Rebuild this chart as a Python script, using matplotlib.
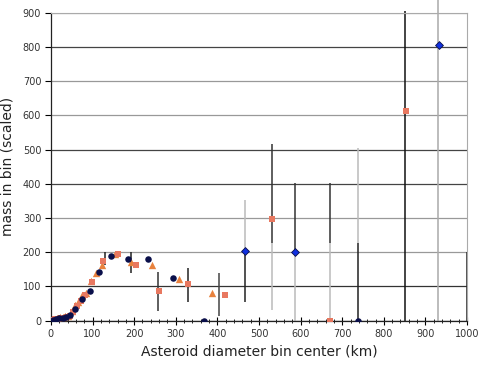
import matplotlib
matplotlib.use("Agg")
import matplotlib.pyplot as plt
from matplotlib.ticker import MultipleLocator

# ---- data ----
navy_x = [4, 12, 20, 28, 36, 45, 57, 74, 94, 116, 145, 185, 234, 293, 369, 739]
navy_y = [2, 5, 7, 9, 11, 16, 34, 62, 86, 141, 189, 180, 179, 126, 0, 0]

blue_x = [466, 587, 933]
blue_y = [203, 202, 805]

square_x = [3, 10, 17, 24, 31, 38, 46, 54, 62, 72, 82, 98, 126, 161, 204, 259, 329, 419, 532, 671, 853]
square_y = [1, 4, 6, 8, 9, 11, 14, 24, 42, 58, 74, 113, 175, 195, 163, 88, 107, 74, 298, 0, 613]

tri_x = [2, 8, 14, 21, 28, 35, 42, 50, 58, 66, 75, 85, 97, 109, 123, 155, 192, 244, 308, 388]
tri_y = [2, 5, 8, 10, 11, 13, 15, 29, 45, 56, 75, 80, 115, 140, 162, 194, 172, 163, 123, 81]

# error bars: x, low, high, shade
err_x  = [130, 193, 258, 329, 403, 466, 466, 532, 532, 587, 587, 671, 671, 739, 739, 852, 930, 1000]
err_lo = [163, 140, 28, 54, 15, 56, 200, 226, 30, 206, 0, 226, 0, 226, 0, 0, 0, 0]
err_hi = [202, 202, 142, 153, 140, 200, 352, 515, 226, 402, 206, 402, 226, 505, 226, 905, 940, 200]
err_c  = ['#222222', '#222222', '#333333', '#222222', '#444444', '#222222', '#bbbbbb',
          '#333333', '#bbbbbb', '#333333', '#bbbbbb', '#333333', '#bbbbbb', '#bbbbbb',
          '#222222', '#111111', '#aaaaaa', '#222222']

y_ticks = [0, 100, 200, 300, 400, 500, 600, 700, 800, 900]
y_grid_c = ['#222222', '#333333', '#999999', '#999999', '#444444', '#444444', '#999999', '#999999', '#444444', '#aaaaaa']
x_ticks = [0, 100, 200, 300, 400, 500, 600, 700, 800, 900, 1000]

fig = plt.figure(figsize=(4.85, 3.74), dpi=100)
ax = fig.add_axes([0.105, 0.1425, 0.858, 0.8235])
ax.set_xlim(0, 1000)
ax.set_ylim(0, 900)

for yv, c in zip(y_ticks, y_grid_c):
    ax.axhline(yv, color=c, lw=0.9, zorder=1)

for x, lo, hi, c in zip(err_x, err_lo, err_hi, err_c):
    ax.vlines(x, lo, hi, color=c, lw=1.1, zorder=2, clip_on=False if hi > 900 else True)

ax.scatter(tri_x, tri_y, marker='^', s=28, color='#e8823e', zorder=4, linewidths=0)
ax.scatter(square_x, square_y, marker='s', s=24, color='#e87860', zorder=4, linewidths=0)
ax.scatter(navy_x, navy_y, marker='o', s=22, color='#0a0f4a', zorder=5, linewidths=0)
ax.scatter(blue_x, blue_y, marker='D', s=16, color='#1030e0', edgecolors='#0a0f4a', linewidths=0.6, zorder=5)

ax.set_yticks(y_ticks)
ax.set_xticks(x_ticks)
ax.xaxis.set_minor_locator(MultipleLocator(20))
ax.tick_params(axis='y', direction='out', length=4, width=0.8, labelsize=7, labelcolor='#333333', pad=3)
ax.tick_params(axis='x', which='major', direction='inout', length=6, width=0.8, labelsize=7, labelcolor='#333333', pad=3)
ax.tick_params(axis='x', which='minor', direction='inout', length=3, width=0.6)

for s in ['top', 'right']:
    ax.spines[s].set_color('#aaaaaa')
    ax.spines[s].set_linewidth(0.8)
for s in ['left', 'bottom']:
    ax.spines[s].set_color('#222222')
    ax.spines[s].set_linewidth(0.9)

ax.set_xlabel('Asteroid diameter bin center (km)', fontsize=10, color='#222222', labelpad=4)
ax.set_ylabel('mass in bin (scaled)', fontsize=10, color='#222222', labelpad=6)

fig.savefig('out.png', dpi=100)
